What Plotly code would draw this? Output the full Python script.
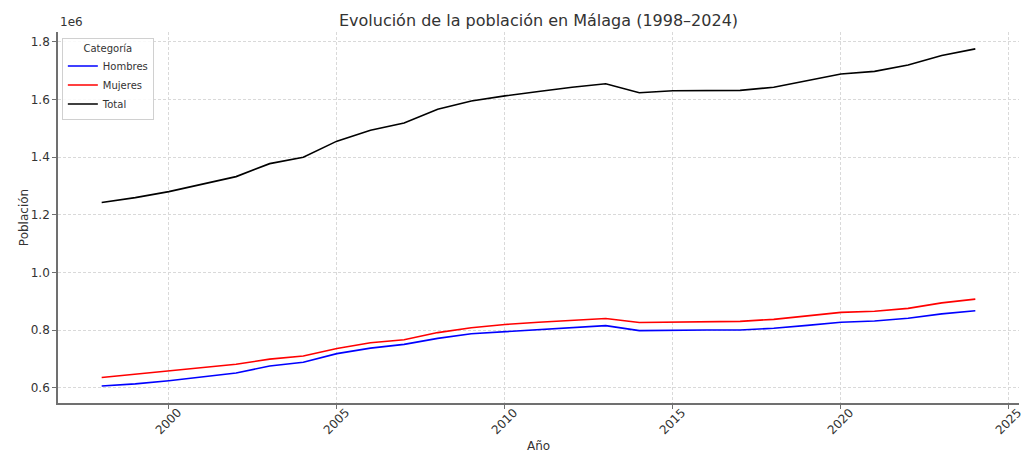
import plotly.graph_objects as go

years = list(range(1998, 2025))
hombres = [606000, 613000, 624000, 637000, 651000, 675000, 688000, 718000, 737000,
           750000, 771000, 787000, 794000, 802000, 809000, 815000, 798000, 800000,
           800000, 800000, 806000, 816000, 827000, 831000, 841000, 856000, 867000]
mujeres = [635000, 646000, 658000, 669000, 681000, 699000, 710000, 736000, 756000,
           766000, 791000, 808000, 819000, 827000, 834000, 840000, 826000, 828000,
           829000, 830000, 837000, 849000, 861000, 865000, 875000, 894000, 907000]
total = [1242000, 1259000, 1280000, 1305000, 1332000, 1377000, 1399000, 1455000, 1493000,
         1518000, 1566000, 1594000, 1612000, 1627000, 1642000, 1654000, 1623000, 1630000,
         1630000, 1631000, 1642000, 1665000, 1688000, 1697000, 1719000, 1752000, 1775000]

series_names = ["Hombres", "Mujeres", "Total"]
series_colors = ["blue", "red", "black"]

x_ticks = [2000, 2005, 2010, 2015, 2020, 2025]
y_ticks = [600000, 800000, 1000000, 1200000, 1400000, 1600000, 1800000]
y_ticktext = ["0.6", "0.8", "1.0", "1.2", "1.4", "1.6", "1.8"]

FONT = "DejaVu Sans"
TXT = "#333333"
SPINE = "#707070"
GRID = "#d9d9d9"

fig = go.Figure()
for name, vals, col in zip(series_names, [hombres, mujeres, total], series_colors):
    fig.add_trace(go.Scatter(x=years, y=vals, mode="lines", name=name,
                             line=dict(color=col, width=1.6)))

annotations = []
for t in x_ticks:
    annotations.append(dict(x=t, xref="x", y=0, yref="paper", yshift=-18,
                            text=str(t), showarrow=False, textangle=-45,
                            xanchor="center", yanchor="middle",
                            font=dict(family=FONT, size=12, color=TXT)))
annotations.append(dict(x=0.5, xref="paper", y=0, yref="paper", yshift=-43,
                        text="Año", showarrow=False, xanchor="center", yanchor="middle",
                        font=dict(family=FONT, size=12, color=TXT)))
annotations.append(dict(x=0, xref="paper", y=1, yref="paper", yshift=1,
                        text="1e6", showarrow=False, xanchor="left", yanchor="bottom",
                        font=dict(family=FONT, size=12, color=TXT)))

fig.update_layout(
    width=1026, height=452,
    margin=dict(l=58, r=7, t=32, b=49),
    paper_bgcolor="white", plot_bgcolor="white",
    font=dict(family=FONT, size=12, color=TXT),
    title=dict(text="Evolución de la población en Málaga (1998–2024)",
               x=0.5, xref="paper", xanchor="center", y=0.955, yref="container",
               yanchor="middle", font=dict(family=FONT, size=16, color=TXT)),
    xaxis=dict(range=[1996.7, 2025.3], tickvals=x_ticks, showticklabels=False,
               showgrid=True, gridcolor=GRID, griddash="3px,2px", gridwidth=0.8,
               showline=True, linecolor=SPINE, linewidth=1.6, mirror=False,
               ticks="outside", ticklen=4, tickcolor=SPINE, tickwidth=1.2,
               zeroline=False),
    yaxis=dict(range=[546800, 1833600], tickvals=y_ticks, ticktext=y_ticktext,
               showgrid=True, gridcolor=GRID, griddash="3px,2px", gridwidth=0.8,
               showline=True, linecolor=SPINE, linewidth=1.6, mirror=False,
               ticks="outside", ticklen=4, tickcolor=SPINE, tickwidth=1.2,
               zeroline=False, tickfont=dict(family=FONT, size=12, color=TXT),
               title=dict(text="Población", standoff=0,
                          font=dict(family=FONT, size=12, color=TXT))),
    legend=dict(x=0.004, y=0.985, xanchor="left", yanchor="top",
                bgcolor="rgba(255,255,255,0.85)", bordercolor="#d0d0d0", borderwidth=1,
                font=dict(family=FONT, size=10, color=TXT),
                title=dict(text="Categoría", side="top center",
                           font=dict(family=FONT, size=10, color=TXT)),
                itemwidth=30, tracegroupgap=0),
    annotations=annotations,
    showlegend=True,
)

fig.write_html("out.html", config={"displayModeBar": False},
               post_script="document.body.style.margin='0';document.body.style.padding='0';")
